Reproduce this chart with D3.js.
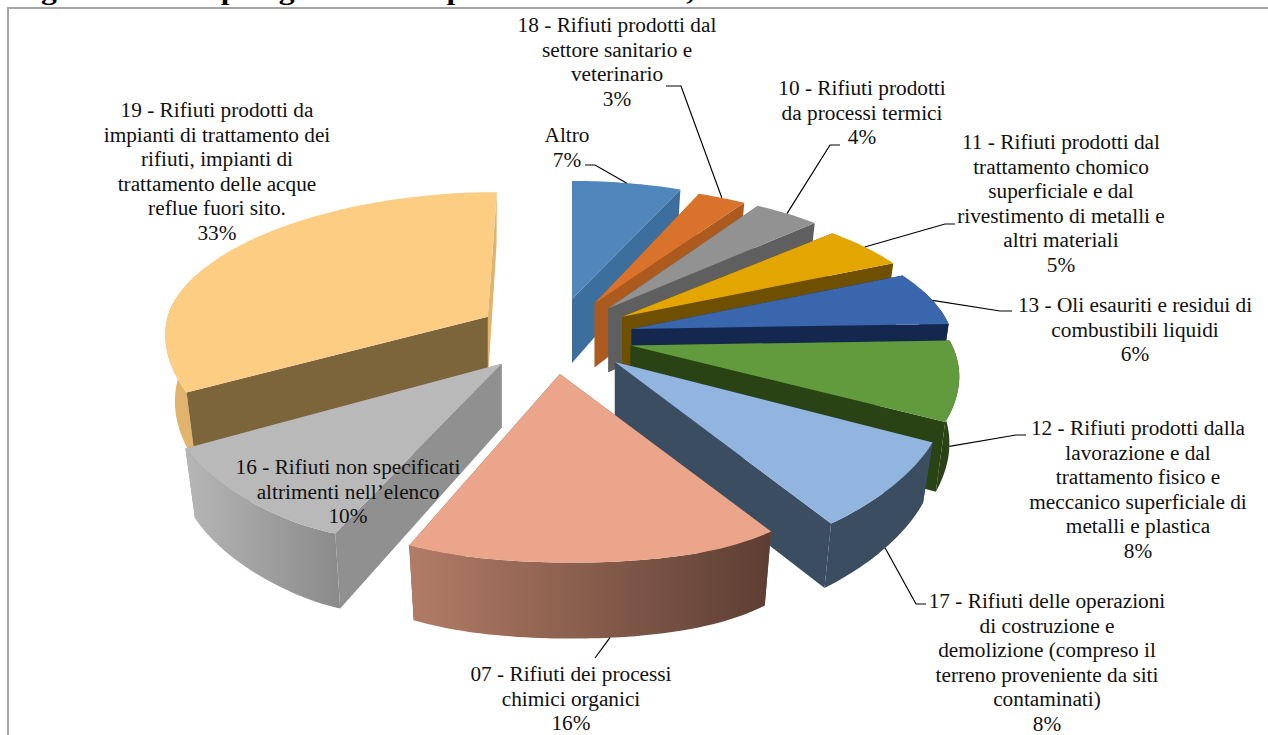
<!DOCTYPE html>
<html><head><meta charset="utf-8">
<style>html,body{margin:0;padding:0;background:#fff;overflow:hidden}svg{display:block}</style>
<script src="https://cdnjs.cloudflare.com/ajax/libs/d3/7.8.5/d3.min.js"></script>
</head><body><svg id="c" width="1268" height="735"></svg>
<script>
const titleText = "Figura 4.11 - Tipologie di rifiuti pericolosi smaltiti, anno 2010";
const categories = ["Altro","18","10","11","13","12","17","07","16","19"];
const values = [7,3,4,5,6,8,8,16,10,33];
const labelLines = [
 ["Altro","7%"],
 ["18 - Rifiuti prodotti dal","settore sanitario e","veterinario","3%"],
 ["10 - Rifiuti prodotti","da processi termici","4%"],
 ["11 - Rifiuti prodotti dal","trattamento chomico","superficiale e dal","rivestimento di metalli e","altri materiali","5%"],
 ["13 - Oli esauriti e residui di","combustibili liquidi","6%"],
 ["12 - Rifiuti prodotti dalla","lavorazione e dal","trattamento fisico e","meccanico superficiale di","metalli e plastica","8%"],
 ["17 - Rifiuti delle operazioni","di costruzione e","demolizione (compreso il","terreno proveniente da siti","contaminati)","8%"],
 ["07 - Rifiuti dei processi","chimici organici","16%"],
 ["16 - Rifiuti non specificati","altrimenti nell\u2019elenco","10%"],
 ["19 - Rifiuti prodotti da","impianti di trattamento dei","rifiuti, impianti di","trattamento delle acque","reflue fuori sito.","33%"]
];
// styles
const topColors  = ["#4f87bd","#d9722a","#929292","#e3a600","#3a66ae","#629a3e","#92b5e0","#eba58a","#b9b9b9","#fdcd84"];
const wallColors = ["#3d6f9e","#ad5a1f","#5f5f5f","#6e5000","#14284f","#2a4314","#3b4d61","#7a5040","#909090","#e0b46c"];
const rimFrom    = ["#3d6f9e","#ad5a1f","#5f5f5f","#6e5000","#14284f","#2a4314","#3b4d61","#b27c66","#b6b6b6","#e0b46c"];
const rimTo      = ["#3d6f9e","#ad5a1f","#5f5f5f","#6e5000","#14284f","#2a4314","#3b4d61","#5d3e33","#8a8a8a","#e0b46c"];
const startWall  = [null,null,null,null,null,null,null,null,null,"#7c653b"];
// layout
const pieCx=555, pieCy=336, explodeX=78, explodeY=38;
const sliceScaleX=[1,1,1,1,1,1,1,1,1.03,1.03], sliceScaleY=[1,1,1,1,1,1,1,1,1,1.03];
const skewScale=[1,1,1,1,1,1,1,1,0,1];
const heightScale=[1,1,1,1,1,1,.87,1,1,1];
const rimShiftX =[0,-4,-4,0,0,2,8,0,0,9], rimShiftY=[0,0,-2,0,0,0,4,0,-11,-3];
const tiltY=[0,0,0,0,0,0,0,0,-22,0];
const apexShiftX=[0,0,0,0,0,0,3,0,0,0];
const drawOrder=[0,1,2,3,4,5,9,8,6,7];
const startWallOverRim=[0,0,0,0,0,0,0,0,0,1];
const labelX=[567,617,862,1061,1135,1138,1047,571,348,217];
const labelY=[136,26,89,143,306,429,602,675,468,111];
const lineStep=24.5;
const leaderElbows=[[[595,165],[585,165]],[[681,86],[666,86]],[[830,145],[840,145]],[[945,224],[955,224]],[[1000,311],[1012,311]],[[1016,435],[1026,435]],[[916,604],[926,604]],[[595,658]],null,null];
const leaderFrac=[.5,.5,.5,.5,.55,.5,.5,.46];
const leaderOnWall=[0,0,0,0,0,1,1,1];

const svg=d3.select("#c");
const defs=svg.append("defs");
const arcs=d3.pie().sort(null).value(d=>d)(values);

// depth: forward position in [-1,1] -> screen offsets
const widthAt=f=>317+69*f;
const skewAt=f=>12*Math.max(0,f);
const depthAt=f=>145.6*f/(1-.2886*f)-11*Math.pow(Math.max(0,(f-.84)/.16),2);
const heightAt=f=>64+12*f;

function apex(i){const a=(arcs[i].startAngle+arcs[i].endAngle)/2;
  return [pieCx+explodeX*Math.sin(a),pieCy-explodeY*Math.cos(a)];}
function rim(i,t){ // t = angle on rim, returns top and bottom points
  const [ax,ay]=apex(i), f=-Math.cos(t), s=Math.sin(t);
  const dx=s*widthAt(f)*sliceScaleX[i]+skewAt(f)*skewScale[i]+rimShiftX[i];
  const x=ax+dx, y=ay+(depthAt(f)-5)*sliceScaleY[i]+rimShiftY[i]+tiltY[i]*s;
  return {top:[x,y],bot:[x-.03*dx,y+heightAt(f)*heightScale[i]]};
}
function apexPts(i){const [ax,ay]=apex(i);return {top:[ax+apexShiftX[i],ay],bot:[ax+apexShiftX[i],ay+heightAt(0)]};}
function sweep(i){const a=arcs[i],n=Math.ceil((a.endAngle-a.startAngle)/0.02);
  return d3.range(n+1).map(k=>a.startAngle+(a.endAngle-a.startAngle)*k/n);}
const poly=d3.line();

const g=svg.append("g");
drawOrder.forEach(i=>{
  const a=arcs[i], pts=sweep(i), ap=apexPts(i), s=g.append("g");
  const r0=rim(i,a.startAngle), r1=rim(i,a.endAngle);
  const drawStart=()=>s.append("path").attr("d",poly([ap.top,r0.top,r0.bot,ap.bot])+"Z").attr("fill",startWall[i]||wallColors[i]);
  if(!startWallOverRim[i]) drawStart();
  s.append("path").attr("d",poly([ap.top,r1.top,r1.bot,ap.bot])+"Z").attr("fill",wallColors[i]);
  const id="rim"+i;
  const gr=defs.append("linearGradient").attr("id",id).attr("x1",0).attr("x2",1).attr("y1",0).attr("y2",0);
  gr.append("stop").attr("offset",0).attr("stop-color",rimFrom[i]);
  gr.append("stop").attr("offset",1).attr("stop-color",rimTo[i]);
  const front=pts.filter(t=>-Math.cos(t)>-.25);
  if(front.length>1){
    const up=front.map(t=>rim(i,t).top), dn=front.map(t=>rim(i,t).bot).reverse();
    s.append("path").attr("d",poly(up.concat(dn))+"Z").attr("fill",`url(#${id})`);
  }
  if(startWallOverRim[i]) drawStart();
  s.append("path").attr("d",poly([ap.top].concat(pts.map(t=>rim(i,t).top)))+"Z").attr("fill",topColors[i]);
});

// frame
svg.append("path").attr("d",d3.line()([[8,735],[8,8],[1268,8]])).attr("fill","none").attr("stroke","#a6a6a6").attr("stroke-width",2);
// title
svg.append("text").attr("x",13).attr("y",0).attr("font-family","Liberation Serif").attr("font-weight","bold").attr("font-size",26)
  .attr("textLength",827).attr("lengthAdjust","spacingAndGlyphs").attr("fill","#000").text(titleText);

// leaders
leaderElbows.forEach((el,i)=>{
  if(!el) return;
  const a=arcs[i], t=a.startAngle+(a.endAngle-a.startAngle)*leaderFrac[i], r=rim(i,t);
  const p0=leaderOnWall[i]?r.bot:r.top;
  svg.append("path").attr("d",poly([p0].concat(el))).attr("fill","none").attr("stroke","#000").attr("stroke-width",1.2);
});
// labels
labelLines.forEach((ls,i)=>{
  const t=svg.append("text").attr("text-anchor","middle").attr("font-family","Liberation Serif").attr("font-size",21.3).attr("fill","#111");
  ls.forEach((l,k)=>t.append("tspan").attr("x",labelX[i]).attr("y",labelY[i]+k*lineStep+6).text(l));
});
</script></body></html>
